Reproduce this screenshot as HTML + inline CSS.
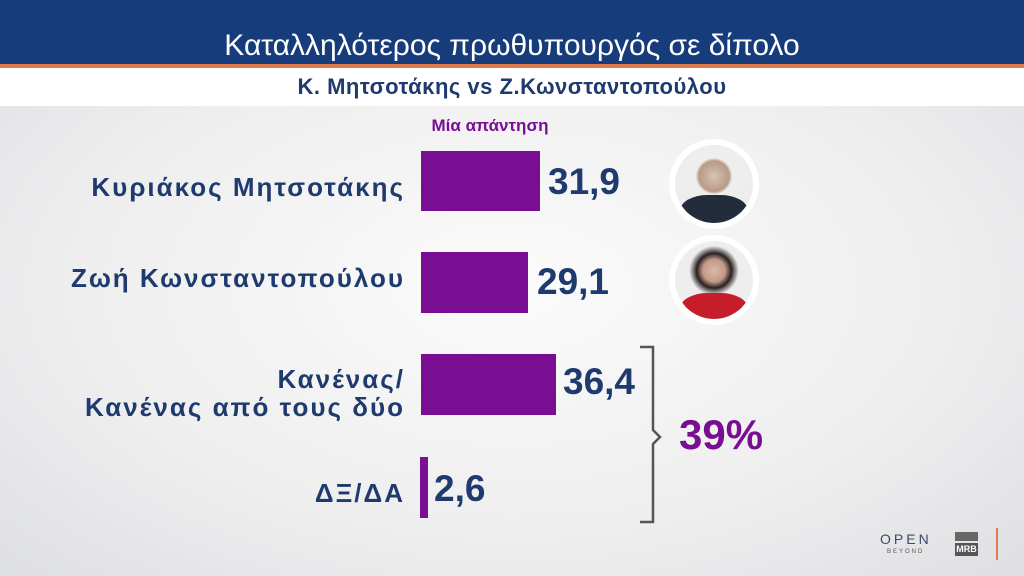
<!DOCTYPE html>
<html><head><meta charset="utf-8"><style>
body{margin:0;width:1024px;height:576px;overflow:hidden;font-family:"Liberation Sans",sans-serif;position:relative;background:radial-gradient(ellipse at 50% 50%,#fbfbfb 0%,#eeeeef 60%,#dedfe2 100%);}
.abs{position:absolute}
.lab{position:absolute;right:619px;color:#1f3a6e;font-weight:bold;font-size:26px;text-align:right;line-height:28px;letter-spacing:2px;white-space:nowrap}
.bar{position:absolute;background:#7a0e92}
.val{position:absolute;color:#1f3a6e;font-weight:bold;font-size:37px;line-height:40px}
</style></head><body>
<div class="abs" style="left:0;top:0;width:1024px;height:64px;background:#173c7c"></div>
<div class="abs" style="left:0;top:64px;width:1024px;height:4px;background:#e07a4a"></div>
<div class="abs" style="left:0;top:68px;width:1024px;height:38px;background:#fff"></div>
<div class="abs" style="left:0;top:28px;width:1024px;text-align:center;color:#fff;font-size:30px;line-height:36px">Καταλληλότερος πρωθυπουργός σε δίπολο</div>
<div class="abs" style="left:0;top:74px;width:1024px;text-align:center;color:#1f3a6e;font-size:22px;font-weight:bold;line-height:26px;letter-spacing:0.5px">Κ. Μητσοτάκης vs Ζ.Κωνσταντοπούλου</div>
<div class="abs" style="left:400px;top:116px;width:180px;text-align:center;color:#7a0e92;font-size:17px;font-weight:bold">Μία απάντηση</div>

<div class="lab" style="top:173px">Κυριάκος Μητσοτάκης</div>
<div class="bar" style="left:421px;top:151px;width:119px;height:60px"></div>
<div class="val" style="left:548px;top:162px">31,9</div>

<div class="lab" style="top:264px">Ζωή Κωνσταντοπούλου</div>
<div class="bar" style="left:421px;top:252px;width:107px;height:61px"></div>
<div class="val" style="left:537px;top:262px">29,1</div>

<div class="lab" style="top:365px">Κανένας/<br>Κανένας από τους δύο</div>
<div class="bar" style="left:421px;top:354px;width:135px;height:61px"></div>
<div class="val" style="left:563px;top:362px">36,4</div>

<div class="lab" style="top:479px">ΔΞ/ΔΑ</div>
<div class="bar" style="left:420px;top:457px;width:8px;height:61px"></div>
<div class="val" style="left:434px;top:469px">2,6</div>

<svg class="abs" style="left:620px;top:340px" width="50" height="190"><path d="M20 7 H33 V90 L40 97 L33 104 V182 H20" fill="none" stroke="#555" stroke-width="2.5"/></svg>
<div class="abs" style="left:679px;top:411px;color:#7a0e92;font-weight:bold;font-size:42px;line-height:48px">39%</div>

<div class="abs" style="left:669px;top:139px;width:90px;height:90px;border-radius:50%;background:#fff;overflow:hidden">
<div class="abs" style="left:6px;top:6px;width:78px;height:78px;border-radius:50%;background:radial-gradient(circle at 50% 40%,#d8c4b4 0%,#b89a86 25%,#eee 30%,#ececec 100%);overflow:hidden"><div class="abs" style="left:5px;top:50px;width:68px;height:40px;background:#222c3a;border-radius:40% 40% 0 0"></div></div></div>
<div class="abs" style="left:669px;top:235px;width:90px;height:90px;border-radius:50%;background:#fff;overflow:hidden">
<div class="abs" style="left:6px;top:6px;width:78px;height:78px;border-radius:50%;background:radial-gradient(circle at 50% 38%,#d9b8a8 0%,#c49a88 18%,#2a2020 28%,#eee 40%);overflow:hidden"><div class="abs" style="left:5px;top:52px;width:68px;height:40px;background:#c51e2a;border-radius:40% 40% 0 0"></div></div></div>

<div class="abs" style="left:880px;top:531px;color:#3a4a6a;font-size:14px;letter-spacing:3px">OPEN</div>
<div class="abs" style="left:887px;top:549px;color:#555;font-size:6px;letter-spacing:2px">BEYOND</div>
<div class="abs" style="left:955px;top:532px;width:23px;height:9px;background:#666"></div>
<div class="abs" style="left:955px;top:543px;width:23px;height:13px;background:#555;color:#fff;font-size:9px;font-weight:bold;text-align:center;line-height:13px">MRB</div>
<div class="abs" style="left:996px;top:528px;width:2px;height:32px;background:#e07a4a"></div>
</body></html>
